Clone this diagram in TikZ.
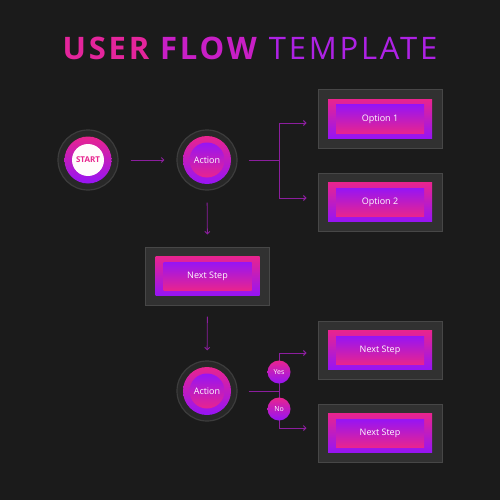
\documentclass[tikz,border=0pt]{standalone}
\usepackage{fontspec}
\setmainfont{Open Sans}
\newfontfamily\titlefont{Open Sans}[LetterSpace=9]
\usetikzlibrary{arrows.meta}

\definecolor{backdrop}{HTML}{1B1B1B}
\definecolor{hotpink}{HTML}{E8248F}
\definecolor{violet}{HTML}{9614F5}
\definecolor{panelgray}{HTML}{313131}
\definecolor{paneledge}{HTML}{474747}
\definecolor{ringgray}{HTML}{282828}
\definecolor{ringedge}{HTML}{3C3C3C}
\definecolor{linkcolor}{HTML}{8C1E9E}

\begin{document}
\begin{tikzpicture} [
            x=1pt, y=-1pt,
            ring/.style = {circle,fill=ringgray,draw=ringedge,line width=1.2pt,minimum size=60pt,inner sep=0pt},
            disc/.style = {circle,top color=hotpink,bottom color=violet,minimum size=48pt,inner sep=0pt},
            core/.style = {circle,top color=violet,bottom color=hotpink,minimum size=35pt,inner sep=0pt,
                           text=white,font=\fontsize{9}{10}\selectfont},
            white core/.style = {circle,fill=white!96!pink,minimum size=32pt,inner sep=0pt,
                           text=hotpink,font=\bfseries\fontsize{8}{9}\selectfont},
            badge/.style = {circle,top color=hotpink,bottom color=violet,minimum size=23pt,inner sep=0pt,
                           text=white,font=\fontsize{7}{8}\selectfont},
            panel/.style = {rectangle,fill=panelgray,draw=paneledge,line width=1pt,
                           minimum width=124pt,minimum height=58pt},
            frame/.style = {rectangle,top color=hotpink,bottom color=violet,
                           minimum width=104pt,minimum height=39pt},
            face/.style = {rectangle,top color=violet,bottom color=hotpink,
                           minimum width=88pt,minimum height=28pt,text=white,font=\fontsize{9}{10}\selectfont},
            link/.style = {draw=linkcolor,line width=0.9pt},
            arrow/.style = {link,-{Straight Barb[length=2.5pt,width=5pt]}}
        ]
        \fill[backdrop] (0,0) rectangle (500,500);
        \useasboundingbox (0,0) rectangle (500,500);
        % Title
        \node[anchor=base,inner sep=0pt,font=\titlefont\fontsize{31}{34}\selectfont] (title) at (250,60)
            {\textbf{\textcolor[HTML]{E4259C}{USER} \textcolor[HTML]{C81FC6}{FLOW}}\hspace{12pt}\textcolor[HTML]{AE22E4}{TEMPLATE}};
        % First we draw the round steps
        \node[ring] (start) at (88,160) {};
        \node[disc, minimum size=47pt] at (start) {};
        \node[white core] at (start) {START};
        \foreach \pos/\name in {
                {(207,160)/act1},
                {(207,391)/act2}} {
            \node[ring] (\name) at \pos {};
            \node[disc] at (\name) {};
            \node[core] at (\name) {Action};
        }
        % Then the boxed steps
        \foreach \pos/\name/\txt in {
                {(380,119)/opt1/Option 1},
                {(380,202)/opt2/Option 2},
                {(207.5,276)/step/Next Step},
                {(380,350)/yes step/Next Step},
                {(380,433)/no step/Next Step}} {
            \node[panel] (\name) at \pos {};
            \node[frame] at (\name) {};
            \node[face] at (\name) {\txt};
        }
        % Branch points
        \coordinate (fork1) at (279,160);
        \coordinate (fork2) at (279,391);
        % Connect steps with links
        \path[arrow,shorten <=12pt,shorten >=12pt] (start) -- (act1);
        \path[arrow,shorten <=12pt,shorten >=12pt] (act1) -- (step);
        \path[arrow,shorten <=11pt,shorten >=10pt] (step) -- (act2);
        \path[link,shorten <=11pt] (act1) -- (fork1);
        \path[link,shorten <=11pt] (act2) -- (fork2);
        \path[arrow,shorten >=11pt] (fork1) |- ([yshift=-4pt]opt1.west);
        \path[arrow,shorten >=11pt] (fork1) |- ([yshift=4pt]opt2.west);
        \path[arrow,shorten >=11pt] (fork2) |- ([yshift=-3pt]yes step.west);
        \path[arrow,shorten >=11pt] (fork2) |- ([yshift=5pt]no step.west);
        % Answers sit on the branch
        \node[badge] (yes) at (279,372) {Yes};
        \node[badge] (no) at (279,409) {No};
    \end{tikzpicture}
\end{document}
